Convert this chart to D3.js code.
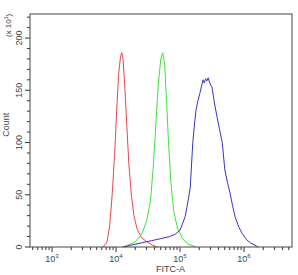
<!DOCTYPE html>
<html>
<head>
<meta charset="utf-8">
<script src="https://cdn.jsdelivr.net/npm/d3@7"></script>
<style>
  body { margin: 0; background: #fff; }
  text { font-family: "Liberation Sans", Arial, sans-serif; fill: #444; }
</style>
</head>
<body>
<div id="chart"></div>
<script>
// fluorescence intensity (log10) and event counts
const redLog = [3.80, 3.86, 3.90, 3.94, 3.98, 4.01, 4.04, 4.07, 4.09, 4.11, 4.14, 4.17, 4.20, 4.24, 4.28, 4.33, 4.40, 4.48, 4.56, 4.65];
const redCount = [0, 5, 20, 50, 90, 130, 165, 182, 186, 180, 150, 115, 80, 50, 30, 17, 9, 5, 2, 0];

const greenLog = [4.10, 4.20, 4.30, 4.40, 4.48, 4.54, 4.58, 4.62, 4.66, 4.70, 4.73, 4.76, 4.79, 4.82, 4.86, 4.90, 4.96, 5.04, 5.12, 5.25];
const greenCount = [0, 2, 5, 12, 25, 45, 75, 115, 155, 180, 186, 175, 140, 100, 60, 35, 18, 8, 3, 0];

const blueLog = [4.12, 4.25, 4.40, 4.55, 4.70, 4.84, 4.92, 5.00, 5.08, 5.12, 5.16, 5.20, 5.23, 5.25, 5.28, 5.31, 5.34, 5.36, 5.38, 5.40, 5.42, 5.44, 5.46, 5.48, 5.50, 5.54, 5.58, 5.62, 5.66, 5.70, 5.74, 5.78, 5.82, 5.86, 5.92, 5.97, 6.04, 6.10, 6.22];
const blueCount = [0, 2, 4, 6, 8, 10, 12, 16, 29, 42, 57, 100, 120, 131, 140, 147, 155, 160, 157, 161, 159, 162, 158, 155, 153, 137, 124, 112, 100, 74, 62, 52, 40, 29, 19, 13, 7, 4, 0];

const xTickExps = [3, 4, 5, 6];
const yTicks = [0, 50, 100, 150, 200];

const margin = { top: 14, right: 6, bottom: 28, left: 30 },
  width = 298 - margin.left - margin.right,
  height = 275 - margin.top - margin.bottom;

const svg = d3.select("#chart")
  .append("svg")
  .attr("width", 298)
  .attr("height", 275)
  .append("g")
  .attr("transform", "translate(" + margin.left + "," + margin.top + ")");

const x = d3.scaleLinear().domain([2.656, 6.75]).range([0, width]);
const y = d3.scaleLinear().domain([0, 223]).range([height, 0]);

// minor x ticks at 2..9 x 10^k
const xMinor = [];
for (let k = 2; k <= 6; k++) {
  for (let m = 1; m <= 9; m++) {
    const v = k + Math.log10(m);
    if (v >= x.domain()[0] && v <= x.domain()[1]) xMinor.push({ v, major: m === 1 });
  }
}

svg.append("g")
  .selectAll("line")
  .data(xMinor)
  .join("line")
  .attr("x1", d => x(d.v))
  .attr("x2", d => x(d.v))
  .attr("y1", height)
  .attr("y2", d => height + (d.major ? 5 : 3))
  .attr("stroke", "#333");

// minor y ticks every 10
const yMinor = d3.range(0, 221, 10);
svg.append("g")
  .selectAll("line")
  .data(yMinor)
  .join("line")
  .attr("x1", d => d % 50 === 0 ? -5 : -3)
  .attr("x2", 0)
  .attr("y1", d => y(d))
  .attr("y2", d => y(d))
  .attr("stroke", "#333");

// x tick labels 10^n
const xl = svg.append("g")
  .selectAll("text")
  .data(xTickExps)
  .join("text")
  .attr("x", d => x(d))
  .attr("y", height + 15)
  .attr("text-anchor", "middle")
  .style("font-size", "9px");
xl.append("tspan").text("10");
xl.append("tspan").attr("dy", "-4").style("font-size", "6px").text(d => d);

// y tick labels, rotated
svg.append("g")
  .selectAll("text")
  .data(yTicks)
  .join("text")
  .attr("transform", d => "translate(-8," + y(d) + ") rotate(-90)")
  .attr("text-anchor", "middle")
  .style("font-size", "9px")
  .text(d => d);

// axis titles
svg.append("text")
  .attr("x", x(4.85))
  .attr("y", height + 25)
  .attr("text-anchor", "middle")
  .style("font-size", "9px")
  .text("FITC-A");

svg.append("text")
  .attr("transform", "translate(-21," + y(117) + ") rotate(-90)")
  .attr("text-anchor", "middle")
  .style("font-size", "9px")
  .text("Count");

const sc = svg.append("text")
  .attr("transform", "translate(-19," + y(212) + ") rotate(-90)")
  .attr("text-anchor", "middle")
  .style("font-size", "8px");
sc.append("tspan").text("(x 10");
sc.append("tspan").attr("dy", "-3").style("font-size", "5px").text("1");
sc.append("tspan").attr("dy", "3").text(")");

// histogram curves
const line = d3.line()
  .x(d => x(d[0]))
  .y(d => y(d[1]))
  .curve(d3.curveLinear);

const series = [
  { xs: redLog, ys: redCount, color: "#e5484d" },
  { xs: greenLog, ys: greenCount, color: "#3ee03e" },
  { xs: blueLog, ys: blueCount, color: "#3434c4" }
];

svg.append("g")
  .attr("fill", "none")
  .selectAll("path")
  .data(series)
  .join("path")
  .attr("d", d => line(d.xs.map((v, i) => [v, d.ys[i]])))
  .attr("stroke", d => d.color)
  .attr("stroke-width", 1);

// frame
svg.append("rect")
  .attr("x", 0)
  .attr("y", 0)
  .attr("width", width)
  .attr("height", height)
  .attr("fill", "none")
  .attr("stroke", "#444")
  .attr("stroke-width", 1);
</script>
</body>
</html>
